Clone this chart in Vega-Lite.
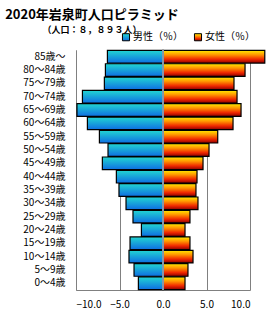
{
  "$schema": "https://vega.github.io/schema/vega-lite/v6.json",
  "width": 174,
  "height": 240,
  "autosize": {"type": "none"},
  "padding": {"left": 76, "top": 50, "right": 20, "bottom": 30},
  "background": "white",
  "title": {
    "text": "2020年岩泉町人口ピラミッド",
    "subtitle": "（人口：８，８９３人）",
    "anchor": "middle",
    "frame": "group",
    "dx": -71,
    "offset": -3,
    "font": "Noto Sans CJK JP",
    "fontSize": 13,
    "fontWeight": "bold",
    "color": "#000000",
    "subtitleFont": "Noto Sans CJK JP",
    "subtitleFontSize": 9,
    "subtitleFontWeight": "bold",
    "subtitleColor": "#000000",
    "subtitlePadding": 4
  },
  "data": {
    "values": [
      {"age": "85歳〜", "sex": "男性（％）", "value": -6.39},
      {"age": "80〜84歳", "sex": "男性（％）", "value": -6.62},
      {"age": "75〜79歳", "sex": "男性（％）", "value": -6.74},
      {"age": "70〜74歳", "sex": "男性（％）", "value": -9.26},
      {"age": "65〜69歳", "sex": "男性（％）", "value": -9.89},
      {"age": "60〜64歳", "sex": "男性（％）", "value": -8.69},
      {"age": "55〜59歳", "sex": "男性（％）", "value": -7.31},
      {"age": "50〜54歳", "sex": "男性（％）", "value": -6.32},
      {"age": "45〜49歳", "sex": "男性（％）", "value": -6.97},
      {"age": "40〜44歳", "sex": "男性（％）", "value": -5.36},
      {"age": "35〜39歳", "sex": "男性（％）", "value": -5.06},
      {"age": "30〜34歳", "sex": "男性（％）", "value": -4.25},
      {"age": "25〜29歳", "sex": "男性（％）", "value": -3.45},
      {"age": "20〜24歳", "sex": "男性（％）", "value": -2.48},
      {"age": "15〜19歳", "sex": "男性（％）", "value": -3.79},
      {"age": "10〜14歳", "sex": "男性（％）", "value": -3.91},
      {"age": "5〜9歳", "sex": "男性（％）", "value": -3.33},
      {"age": "0〜4歳", "sex": "男性（％）", "value": -2.83},
      {"age": "85歳〜", "sex": "女性（％）", "value": 11.7},
      {"age": "80〜84歳", "sex": "女性（％）", "value": 9.43},
      {"age": "75〜79歳", "sex": "女性（％）", "value": 8.16},
      {"age": "70〜74歳", "sex": "女性（％）", "value": 8.51},
      {"age": "65〜69歳", "sex": "女性（％）", "value": 8.97},
      {"age": "60〜64歳", "sex": "女性（％）", "value": 8.05},
      {"age": "55〜59歳", "sex": "女性（％）", "value": 6.29},
      {"age": "50〜54歳", "sex": "女性（％）", "value": 5.29},
      {"age": "45〜49歳", "sex": "女性（％）", "value": 4.6},
      {"age": "40〜44歳", "sex": "女性（％）", "value": 3.91},
      {"age": "35〜39歳", "sex": "女性（％）", "value": 3.79},
      {"age": "30〜34歳", "sex": "女性（％）", "value": 4.02},
      {"age": "25〜29歳", "sex": "女性（％）", "value": 3.1},
      {"age": "20〜24歳", "sex": "女性（％）", "value": 2.53},
      {"age": "15〜19歳", "sex": "女性（％）", "value": 3.1},
      {"age": "10〜14歳", "sex": "女性（％）", "value": 3.45},
      {"age": "5〜9歳", "sex": "女性（％）", "value": 2.87},
      {"age": "0〜4歳", "sex": "女性（％）", "value": 2.53}
    ]
  },
  "encoding": {
    "y": {
      "field": "age",
      "type": "nominal",
      "sort": null,
      "scale": {"paddingInner": 0.05, "paddingOuter": 0.03},
      "axis": {
        "title": null,
        "ticks": false,
        "domainColor": "#808080",
        "domainWidth": 1,
        "labelFont": "Noto Sans CJK JP",
        "labelFontSize": 10,
        "labelColor": "#000000",
        "labelPadding": 11
      }
    },
    "x": {
      "field": "value",
      "type": "quantitative",
      "scale": {"domain": [-10, 10], "nice": false},
      "axis": {
        "title": null,
        "values": [-10, -5, 0, 5, 10],
        "format": ".1f",
        "ticks": false,
        "grid": true,
        "gridColor": "#808080",
        "gridWidth": 1,
        "gridOpacity": 1,
        "domainColor": "#808080",
        "labelFont": "Noto Sans CJK JP",
        "labelFontSize": 10,
        "labelColor": "#000000",
        "labelPadding": 9
      }
    },
    "stroke": {
      "field": "sex",
      "type": "nominal",
      "scale": {"domain": ["男性（％）", "女性（％）"], "range": ["#000000", "#000000"]},
      "legend": {
        "title": null,
        "orient": "none",
        "direction": "horizontal",
        "legendX": 45,
        "legendY": -18,
        "symbolType": "square",
        "symbolSize": 50,
        "symbolStrokeWidth": 1,
        "labelFont": "Noto Sans CJK JP",
        "labelFontSize": 10,
        "labelColor": "#000000",
        "labelOffset": 2,
        "columnPadding": 9,
        "encoding": {
          "symbols": {
            "fill": {
              "condition": {
                "test": "datum.value === '男性（％）'",
                "value": {"gradient": "linear", "x1": 0, "y1": 0, "x2": 0, "y2": 1,
                  "stops": [{"offset": 0, "color": "#22D6D2"}, {"offset": 1, "color": "#0E6EE2"}]}
              },
              "value": {"gradient": "linear", "x1": 0, "y1": 0, "x2": 0, "y2": 1,
                "stops": [{"offset": 0, "color": "#FFEC00"}, {"offset": 0.35, "color": "#FF9400"}, {"offset": 0.7, "color": "#F02800"}, {"offset": 1, "color": "#8C0000"}]}
            },
            "fillOpacity": {"value": 1},
            "stroke": {"value": "#000000"}
          }
        }
      }
    }
  },
  "layer": [
    {
      "transform": [{"filter": "datum.sex === '男性（％）'"}],
      "mark": {
        "type": "bar", "strokeWidth": 1.2, "clip": false, "fillOpacity": 1,
        "fill": {"gradient": "linear", "x1": 0, "y1": 0, "x2": 0, "y2": 1,
          "stops": [{"offset": 0, "color": "#22D6D2"}, {"offset": 1, "color": "#0E6EE2"}]}
      }
    },
    {
      "transform": [{"filter": "datum.sex === '女性（％）'"}],
      "mark": {
        "type": "bar", "strokeWidth": 1.2, "clip": false, "fillOpacity": 1,
        "fill": {"gradient": "linear", "x1": 0, "y1": 0, "x2": 0, "y2": 1,
          "stops": [{"offset": 0, "color": "#FFEC00"}, {"offset": 0.35, "color": "#FF9400"}, {"offset": 0.7, "color": "#F02800"}, {"offset": 1, "color": "#8C0000"}]}
      }
    },
    {
      "mark": {"type": "rule", "color": "#8797A8", "strokeWidth": 1.5},
      "encoding": {"x": {"datum": 0}, "y": null, "stroke": null}
    }
  ],
  "config": {
    "view": {"stroke": null}
  }
}
